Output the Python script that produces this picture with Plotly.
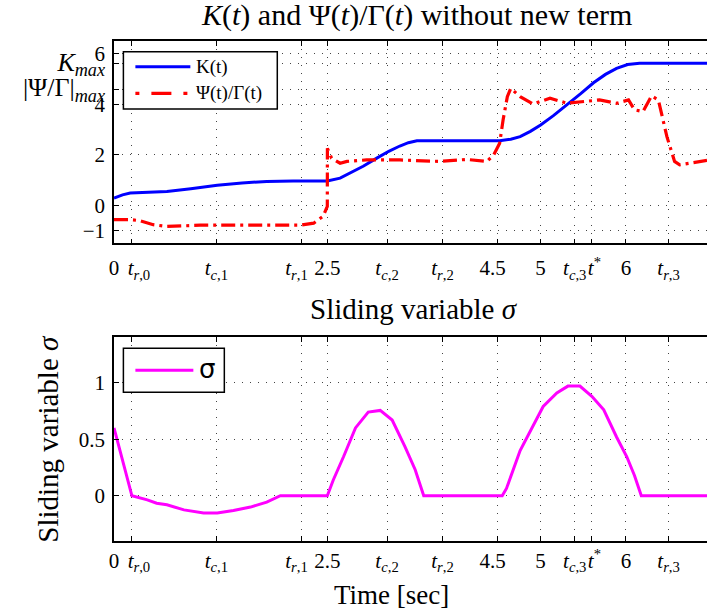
import plotly.graph_objects as go

# ---- data -------------------------------------------------------------
t_k = [0, 0.1, 0.19, 0.4, 0.62, 0.9, 1.21, 1.5, 1.79, 2.1, 2.5, 2.65, 2.77, 2.92,
       3.08, 3.22, 3.35, 3.45, 3.55, 4.0, 4.52, 4.65, 4.76, 4.88, 5.0, 5.15, 5.31,
       5.47, 5.62, 5.76, 5.89, 6.02, 6.16, 6.95]
k_vals = [0.29, 0.42, 0.49, 0.52, 0.55, 0.66, 0.80, 0.89, 0.95, 0.97, 0.97, 1.08,
          1.28, 1.55, 1.87, 2.14, 2.35, 2.48, 2.56, 2.56, 2.56, 2.62, 2.72, 2.93,
          3.18, 3.55, 3.97, 4.42, 4.85, 5.18, 5.42, 5.57, 5.62, 5.62]

t_psi = [0, 0.19, 0.3, 0.46, 0.62, 0.8, 1.01, 1.4, 1.79, 2.18, 2.34, 2.45, 2.5,
         2.501, 2.55, 2.65, 2.73, 2.96, 3.35, 3.82, 4.13, 4.37, 4.45, 4.52, 4.56,
         4.61, 4.65, 4.76, 4.91, 5.11, 5.31, 5.5, 5.69, 5.89, 6.03, 6.1, 6.2, 6.3,
         6.38, 6.48, 6.57, 6.63, 6.95]
psi_vals = [-0.56, -0.56, -0.60, -0.76, -0.83, -0.80, -0.78, -0.78, -0.78, -0.78,
            -0.70, -0.43, -0.04, 2.26, 1.87, 1.67, 1.74, 1.80, 1.80, 1.74, 1.82,
            1.74, 2.0, 2.46, 3.38, 4.30, 4.63, 4.30, 4.01, 4.24, 4.04, 4.10, 4.17,
            4.04, 4.17, 3.78, 3.71, 4.33, 4.17, 2.72, 1.74, 1.61, 1.78]

t_sigma = [0, 0.21, 0.39, 0.5, 0.62, 0.82, 1.05, 1.21, 1.4, 1.6, 1.79, 1.95, 2.5,
           2.57, 2.69, 2.83, 2.98, 3.12, 3.26, 3.41, 3.53, 3.63, 4.55, 4.6, 4.76,
           4.9, 5.03, 5.19, 5.32, 5.46, 5.6, 5.74, 5.89, 6.01, 6.1, 6.18, 6.95]
sigma_vals = [0.6, 0.0, -0.036, -0.066, -0.08, -0.125, -0.152, -0.152, -0.13, -0.10,
              -0.057, 0.0, 0.0, 0.14, 0.345, 0.6, 0.74, 0.755, 0.67, 0.435, 0.23,
              0.0, 0.0, 0.065, 0.4, 0.6, 0.79, 0.91, 0.97, 0.97, 0.88, 0.76, 0.52,
              0.345, 0.18, 0.0, 0.0]

K_MAX = 5.62
PSI_MAX = 4.6

x_tickvals = [0, 0.2, 1.2, 2.2, 2.5, 3.2, 3.85, 4.5, 5, 5.4, 5.6, 6, 6.5]
x_ticktext = ["0", "&nbsp;&nbsp;&nbsp;<i>t</i><sub><i>r</i>,0</sub>",
              "<i>t</i><sub><i>c</i>,1</sub>",
              "<i>t</i><sub><i>r</i>,1</sub>&nbsp;&nbsp;", "2.5",
              "<i>t</i><sub><i>c</i>,2</sub>",
              "<i>t</i><sub><i>r</i>,2</sub>", "4.5&nbsp;&nbsp;", "5",
              "<i>t</i><sub><i>c</i>,3</sub>",
              "&nbsp;<i>t</i><sup>*</sup>", "6", "<i>t</i><sub><i>r</i>,3</sub>"]

y1_tickvals = [-1, 0, 2, 4, 6, K_MAX, PSI_MAX]
y1_ticktext = ["\u22121", "0", "2", "4", "6",
               "<span style='font-size:26px'><i>K<sub>max</sub></i></span>",
               "<span style='font-size:26px'>|\u03a8/\u0393|<sub><i>max</i></sub></span>"]
y2_tickvals = [0, 0.5, 1]
y2_ticktext = ["0", "0.5", "1"]

# ---- geometry (pixels) ----------------------------------------------
W, H = 707, 615
ML, MR, MT, MB = 113.6, 0, 41, 74.3
PW, PH = W - ML - MR, H - MT - MB


def px(x):
    return (x - ML) / PW


def py(y):
    return (H - MB - y) / PH


FONT = "Liberation Serif, Times New Roman, Times, serif"

fig = go.Figure()
fig.add_trace(go.Scatter(x=t_k, y=k_vals, mode="lines", name="K(t)",
                         line=dict(color="#0000ff", width=3),
                         xaxis="x", yaxis="y"))
fig.add_trace(go.Scatter(x=t_psi, y=psi_vals, mode="lines", name="\u03a8(t)/\u0393(t)",
                         line=dict(color="#ff0000", width=3.2, dash="14px,5px,3px,5px"),
                         xaxis="x", yaxis="y"))
fig.add_trace(go.Scatter(x=t_sigma, y=sigma_vals, mode="lines", name="\u03c3",
                         line=dict(color="#ff00ff", width=3),
                         xaxis="x2", yaxis="y2"))

grid = dict(showgrid=True, gridcolor="#444444", gridwidth=1, griddash="1px,7px")
xcommon = dict(range=[0, 6.95], tickmode="array", tickvals=x_tickvals,
               ticktext=x_ticktext, ticks="inside", ticklen=5, tickcolor="black",
               showline=True, linecolor="black", linewidth=1.5, mirror="ticks",
               zeroline=False, tickangle=0,
               tickfont=dict(family=FONT, size=21, color="black"), **grid)
ycommon = dict(ticks="inside", ticklen=5, tickcolor="black", showline=True,
               linecolor="black", linewidth=1.5, zeroline=False, tickmode="array",
               tickfont=dict(family=FONT, size=21, color="black"),
               ticklabelstandoff=3, **grid)

top_dom = [py(243.3), 1.0]
bot_dom = [0.0, py(337.3)]

fig.update_layout(
    width=W, height=H,
    margin=dict(l=ML, r=MR, t=MT, b=MB, pad=0),
    paper_bgcolor="white", plot_bgcolor="white",
    showlegend=False,
    xaxis=dict(domain=[0, 1], anchor="y", ticklabelstandoff=5, **xcommon),
    yaxis=dict(domain=top_dom, anchor="x", range=[-1.5, 6.5],
               tickvals=y1_tickvals, ticktext=y1_ticktext, **ycommon),
    xaxis2=dict(domain=[0, 1], anchor="y2", ticklabelstandoff=0, **xcommon),
    yaxis2=dict(domain=bot_dom, anchor="x2", range=[-0.4, 1.4],
                tickvals=y2_tickvals, ticktext=y2_ticktext, **ycommon),
)

shapes = []
annotations = []

# legend boxes drawn as shapes with sample lines
shapes.append(dict(type="rect", xref="paper", yref="paper",
                   x0=px(123), x1=px(277), y0=py(109), y1=py(51.7),
                   line=dict(color="black", width=1.5), fillcolor="white", layer="above"))
shapes.append(dict(type="line", xref="paper", yref="paper",
                   x0=px(135), x1=px(190), y0=py(66.7), y1=py(66.7),
                   line=dict(color="#0000ff", width=3), layer="above"))
shapes.append(dict(type="line", xref="paper", yref="paper",
                   x0=px(135), x1=px(190), y0=py(93.3), y1=py(93.3),
                   line=dict(color="#ff0000", width=3.2, dash="4px,12px,20px,12px"),
                   layer="above"))
annotations.append(dict(text="K(t)", xref="paper", yref="paper", x=px(194), y=py(66.7),
                        xanchor="left", yanchor="middle", showarrow=False,
                        font=dict(family=FONT, size=19, color="black")))
annotations.append(dict(text="\u03a8(t)/\u0393(t)", xref="paper", yref="paper",
                        x=px(194), y=py(93.3), xanchor="left", yanchor="middle",
                        showarrow=False, font=dict(family=FONT, size=19, color="black")))

shapes.append(dict(type="rect", xref="paper", yref="paper",
                   x0=px(123), x1=px(224), y0=py(392), y1=py(348),
                   line=dict(color="black", width=1.5), fillcolor="white", layer="above"))
shapes.append(dict(type="line", xref="paper", yref="paper",
                   x0=px(135), x1=px(193), y0=py(370), y1=py(370),
                   line=dict(color="#ff00ff", width=3), layer="above"))
annotations.append(dict(text="\u03c3", xref="paper", yref="paper", x=px(197), y=py(369),
                        xanchor="left", yanchor="middle", showarrow=False,
                        font=dict(family="DejaVu Sans", size=26, color="black")))

# titles and axis labels
annotations.append(dict(text="<i>K</i>(<i>t</i>) and \u03a8(<i>t</i>)/\u0393(<i>t</i>) without new term",
                        xref="paper", yref="paper", x=px(416), y=py(15),
                        xanchor="center", yanchor="middle", showarrow=False,
                        font=dict(family=FONT, size=30, color="black")))
annotations.append(dict(text="Sliding variable <i>\u03c3</i>",
                        xref="paper", yref="paper", x=px(414), y=py(309),
                        xanchor="center", yanchor="middle", showarrow=False,
                        font=dict(family=FONT, size=29, color="black")))
annotations.append(dict(text="Time [sec]",
                        xref="paper", yref="paper", x=px(391), y=py(595),
                        xanchor="center", yanchor="middle", showarrow=False,
                        font=dict(family=FONT, size=27, color="black")))
annotations.append(dict(text="Sliding variable <i>\u03c3</i>",
                        xref="paper", yref="paper", x=px(48), y=py(438),
                        xanchor="center", yanchor="middle", showarrow=False,
                        textangle=-90,
                        font=dict(family=FONT, size=29, color="black")))

fig.update_layout(shapes=shapes, annotations=annotations)

fig.write_html("out.html")
